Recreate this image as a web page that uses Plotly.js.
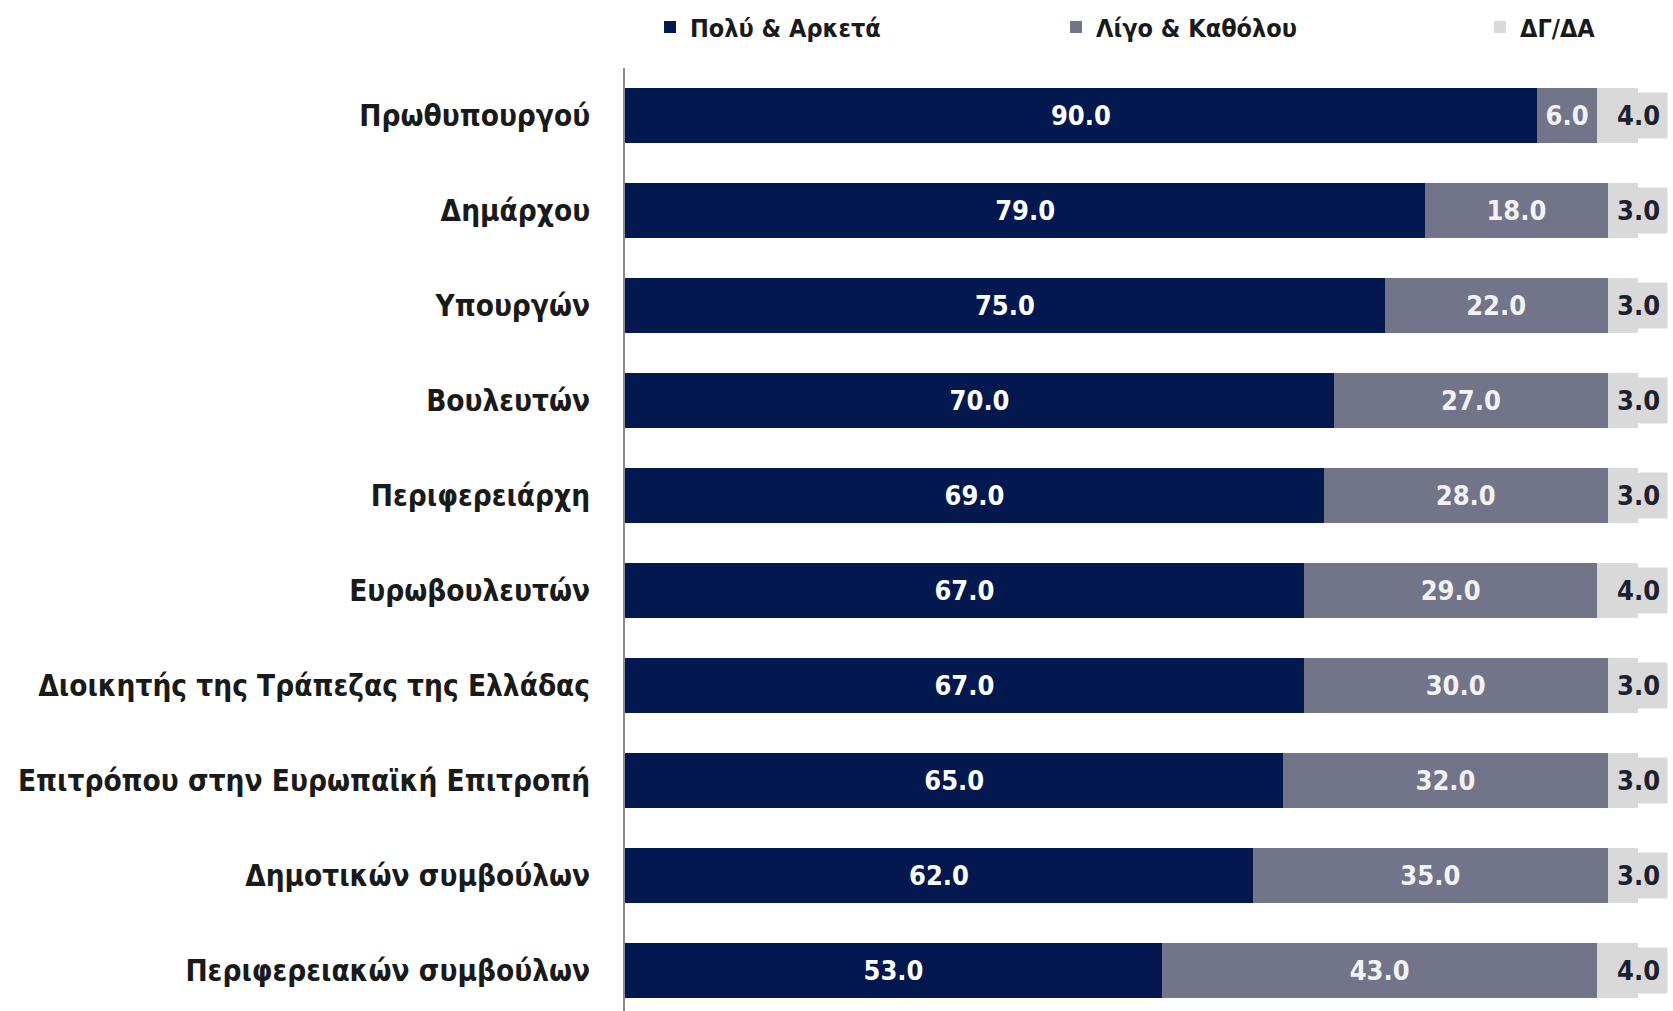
<!DOCTYPE html>
<html>
<head>
<meta charset="utf-8">
<script src="https://cdn.plot.ly/plotly-3.0.1.min.js"></script>
<style>html,body{margin:0;padding:0;background:#fff;}</style>
</head>
<body>
<div id="chart" style="width:1673px;height:1011px;"></div>
<script>
const categories = [
  "Πρωθυπουργού",
  "Δημάρχου",
  "Υπουργών",
  "Βουλευτών",
  "Περιφερειάρχη",
  "Ευρωβουλευτών",
  "Διοικητής της Τράπεζας της Ελλάδας",
  "Επιτρόπου στην Ευρωπαϊκή Επιτροπή",
  "Δημοτικών συμβούλων",
  "Περιφερειακών συμβούλων"
];
const seriesNames = ["Πολύ & Αρκετά", "Λίγο & Καθόλου", "ΔΓ/ΔΑ"];
const muchValues = [90, 79, 75, 70, 69, 67, 67, 65, 62, 53];
const littleValues = [6, 18, 22, 27, 28, 29, 30, 32, 35, 43];
const dkValues = [4, 3, 3, 3, 3, 4, 3, 3, 3, 4];

const FONT = '"DejaVu Sans Condensed", "DejaVu Sans", sans-serif';
const colors = ["#03184e", "#727489", "#d9d9d9"];

function fmt(v){ return v.toFixed(1); }

const traces = [
  {
    type: 'bar', orientation: 'h', name: seriesNames[0], legend: 'legend',
    y: categories, x: muchValues,
    marker: {color: colors[0]},
    text: muchValues.map(fmt), textposition: 'inside', insidetextanchor: 'middle',
    constraintext: 'none',
    textfont: {family: FONT, size: 27, color: '#ffffff', weight: 'bold'},
    hoverinfo: 'skip'
  },
  {
    type: 'bar', orientation: 'h', name: seriesNames[1], legend: 'legend2',
    y: categories, x: littleValues,
    marker: {color: colors[1]},
    text: littleValues.map(fmt), textposition: 'inside', insidetextanchor: 'middle',
    constraintext: 'none',
    textfont: {family: FONT, size: 27, color: '#f2f2f2', weight: 'bold'},
    hoverinfo: 'skip'
  },
  {
    type: 'bar', orientation: 'h', name: seriesNames[2], legend: 'legend3',
    y: categories, x: dkValues,
    marker: {color: colors[2]},
    textposition: 'none',
    hoverinfo: 'skip'
  }
];

const annotations = categories.map((c, i) => ({
  x: muchValues[i] + littleValues[i] + dkValues[i],
  y: c, xref: 'x', yref: 'y',
  text: fmt(dkValues[i]),
  showarrow: false,
  xanchor: 'center', yanchor: 'middle',
  bgcolor: colors[2],
  borderpad: 7,
  font: {family: FONT, size: 27, color: '#1b2130', weight: 'bold'}
}));

function legendAt(x){
  return {
    orientation: 'h', x: x, xanchor: 'left',
    yref: 'container', y: 0.973, yanchor: 'middle',
    font: {family: FONT, size: 25, color: '#1a1a1a', weight: 'bold'},
    bgcolor: 'rgba(0,0,0,0)', itemclick: false
  };
}

const layout = {
  width: 1673, height: 1011,
  margin: {l: 625, r: 35, t: 68, b: 0, pad: 0},
  paper_bgcolor: '#ffffff', plot_bgcolor: '#ffffff',
  barmode: 'stack',
  bargap: 0.42,
  font: {family: FONT, color: '#1a1a1a'},
  showlegend: true,
  legend: legendAt(0.0247),
  legend2: legendAt(0.4255),
  legend3: legendAt(0.844),
  xaxis: {
    range: [0, 100], visible: false, fixedrange: true
  },
  yaxis: {
    type: 'category',
    range: [9.426, -0.5],
    showline: true, linecolor: '#8c8c8c', linewidth: 2,
    showgrid: false, zeroline: false,
    ticks: '', ticklabelstandoff: 27,
    tickfont: {family: FONT, size: 29.5, color: '#1a1a1a', weight: 'bold'},
    fixedrange: true
  },
  annotations: annotations
};

Plotly.newPlot('chart', traces, layout, {displayModeBar: false, staticPlot: true});
</script>
</body>
</html>
